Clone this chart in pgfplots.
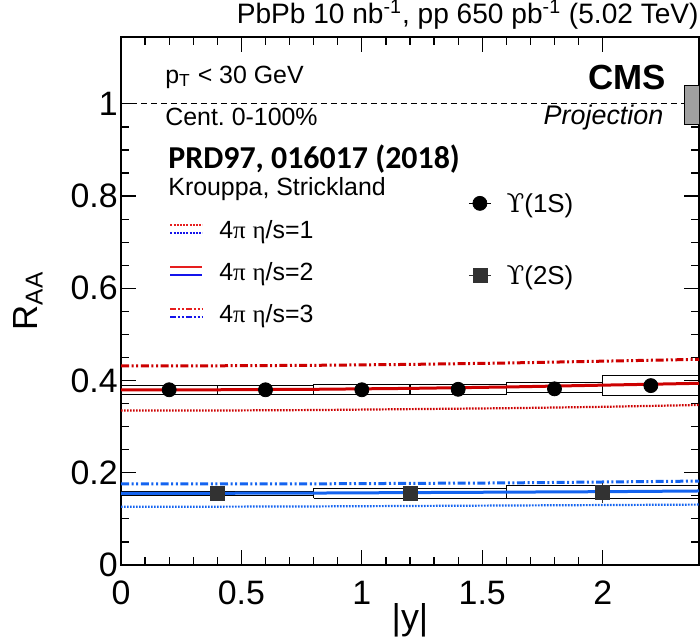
\documentclass[border=0pt]{standalone}
\usepackage{pgfplots}
\pgfplotsset{compat=1.18}
\usepackage{fontspec}
\setmainfont{Liberation Sans}
\newfontfamily\grk{Liberation Serif}
\newfontfamily\ups{DejaVu Serif}
\newfontfamily\calibrifont{Carlito}
\definecolor{pred}{RGB}{204,0,0}
\definecolor{pblue}{RGB}{20,100,240}
\definecolor{lred}{RGB}{230,30,30}
\definecolor{lblue}{RGB}{20,20,235}
\definecolor{sqgray}{RGB}{50,50,50}
\definecolor{boxgray}{RGB}{160,160,160}
\tikzset{
  dotpat/.style={dash pattern=on 0.8bp off 0.7bp},
  ddpat/.style={dash pattern=on 4bp off 1.3bp on 1bp off 1.3bp on 1bp off 1.3bp},
}
\frenchspacing
\begin{document}
\begin{tikzpicture}
\path[use as bounding box] (-60.5bp,-38bp) rectangle (289.5bp,282.5bp);
\begin{axis}[
  at={(0,0)}, anchor=south west,
  scale only axis, width=289bp, height=264bp,
  xmin=0, xmax=2.4, ymin=0, ymax=1.145,
  xtick={0,0.5,1,1.5,2}, ytick={0,0.2,0.4,0.6,0.8,1},
  minor x tick num=4, minor y tick num=3,
  major tick length=7.5bp, minor tick length=4bp,
  tick style={black, line width=0.6bp},
  axis line style={black, line width=0.8bp},
  ticklabel style={font=\fontsize{17}{17}\selectfont},
  /pgf/number format/assume math mode=true,
  yticklabel style={inner xsep=1.5bp},
  xticklabel style={yshift=-4.5bp},
  xlabel={|y|}, ylabel={R\textsubscript{AA}},
  xlabel style={at={(rel axis cs:0.5,-0.104)}, anchor=center, font=\fontsize{18}{18}\selectfont},
  ylabel style={at={(rel axis cs:-0.161,0.5)}, anchor=center, font=\fontsize{17.5}{17.5}\selectfont},
  every axis title shift=0pt,
  title={PbPb 10 nb\textsuperscript{-1}, pp 650 pb\textsuperscript{-1} (5.02 TeV)},
  title style={at={(rel axis cs:1,1.042)}, anchor=east, inner sep=0pt, font=\fontsize{14.1}{14.1}\selectfont},
  legend style={draw=none, fill=none, at={(rel axis cs:0.083,0.6515)}, anchor=north west,
    inner sep=0pt, row sep=9bp, column sep=8bp, font=\fontsize{12.5}{12.5}\selectfont,
    nodes={inner sep=0pt, text height=8.5bp, text depth=3.5bp}},
  legend cell align=left,
]
% legend entries
\addlegendimage{legend image code/.code={
  \draw[draw=lred, line width=1bp, dash pattern=on 1bp off 0.6bp] (0bp,4bp) -- (16bp,4bp);
  \draw[draw=lblue, line width=1bp, dash pattern=on 1bp off 0.6bp] (0bp,0bp) -- (16bp,0bp);}}
\addlegendentry{4{\grk π} {\grk η}/s=1}
\addlegendimage{legend image code/.code={
  \draw[draw=lred, line width=1bp] (0bp,4bp) -- (16bp,4bp);
  \draw[draw=lblue, line width=1bp] (0bp,0bp) -- (16bp,0bp);}}
\addlegendentry{4{\grk π} {\grk η}/s=2}
\addlegendimage{legend image code/.code={
  \draw[draw=lred, line width=1bp, dash pattern=on 2.8bp off 1bp on 1bp off 1bp on 1bp off 1bp] (0bp,4bp) -- (16bp,4bp);
  \draw[draw=lblue, line width=1bp, dash pattern=on 2.8bp off 1bp on 1bp off 1bp on 1bp off 1bp] (0bp,0bp) -- (16bp,0bp);}}
\addlegendentry{4{\grk π} {\grk η}/s=3}

% reference line and global uncertainty
\addplot[forget plot, black, line width=0.6bp, dash pattern=on 3bp off 2bp] coordinates {(0,1) (2.4,1)};
\addplot[forget plot, fill=boxgray, draw=black, line width=0.6bp] coordinates {(2.34,0.955) (2.46,0.955) (2.46,1.04) (2.34,1.04) (2.34,0.955)};

% systematic boxes 1S
\addplot[forget plot, black, line width=0.6bp] coordinates {(0,0.370) (0.4,0.370) (0.4,0.389) (0,0.389) (0,0.370)};
\addplot[forget plot, black, line width=0.6bp] coordinates {(0.4,0.370) (0.8,0.370) (0.8,0.389) (0.4,0.389) (0.4,0.370)};
\addplot[forget plot, black, line width=0.6bp] coordinates {(0.8,0.370) (1.2,0.370) (1.2,0.392) (0.8,0.392) (0.8,0.370)};
\addplot[forget plot, black, line width=0.6bp] coordinates {(1.2,0.370) (1.6,0.370) (1.6,0.392) (1.2,0.392) (1.2,0.370)};
\addplot[forget plot, black, line width=0.6bp] coordinates {(1.6,0.374) (2.0,0.374) (2.0,0.3955) (1.6,0.3955) (1.6,0.374)};
\addplot[forget plot, black, line width=0.6bp] coordinates {(2.0,0.367) (2.4,0.367) (2.4,0.411) (2.0,0.411) (2.0,0.367)};
% systematic boxes 2S
\addplot[forget plot, black, line width=0.6bp] coordinates {(0,0.150) (0.8,0.150) (0.8,0.160) (0,0.160) (0,0.150)};
\addplot[forget plot, black, line width=0.6bp] coordinates {(0.8,0.1446) (1.6,0.1446) (1.6,0.166) (0.8,0.166) (0.8,0.1446)};
\addplot[forget plot, black, line width=0.6bp] coordinates {(1.6,0.1446) (2.4,0.1446) (2.4,0.172) (1.6,0.172) (1.6,0.1446)};

% theory 1S (red)
\addplot[forget plot, pred, line width=1.1bp, dotpat] coordinates {(0,0.335) (0.4,0.335) (0.8,0.336) (1.2,0.338) (1.6,0.340) (2.0,0.343) (2.4,0.347)};
\addplot[forget plot, pred, line width=1.5bp] coordinates {(0,0.380) (0.4,0.380) (0.8,0.381) (1.2,0.383) (1.6,0.386) (2.0,0.390) (2.4,0.394)};
\addplot[forget plot, pred, line width=1.5bp, ddpat] coordinates {(0,0.432) (0.4,0.432) (0.8,0.433) (1.2,0.435) (1.6,0.438) (2.0,0.442) (2.4,0.446)};
% theory 2S (blue)
\addplot[forget plot, pblue, line width=1.1bp, dotpat] coordinates {(0,0.1265) (0.4,0.1265) (0.8,0.127) (1.2,0.128) (1.6,0.129) (2.0,0.130) (2.4,0.131)};
\addplot[forget plot, pblue, line width=1.5bp] coordinates {(0,0.1555) (0.4,0.1555) (0.8,0.156) (1.2,0.157) (1.6,0.158) (2.0,0.159) (2.4,0.1605)};
\addplot[forget plot, pblue, line width=1.5bp, ddpat] coordinates {(0,0.1757) (0.4,0.1757) (0.8,0.176) (1.2,0.177) (1.6,0.178) (2.0,0.180) (2.4,0.182)};

% data
\addplot[forget plot, only marks, mark=*, mark size=3.5bp, black] coordinates {(0.2,0.380) (0.6,0.380) (1.0,0.380) (1.4,0.381) (1.8,0.382) (2.2,0.389)};
\addplot[forget plot, only marks, mark=square*, mark size=3.5bp, sqgray,
  error bars/.cd, y dir=both, y explicit, error mark=none,
  error bar style={line width=0.8bp, sqgray}] coordinates {(0.4,0.1555) +- (0,0.008) (1.2,0.1555) +- (0,0.010) (2.0,0.1565) +- (0,0.021)};

% text
\node[anchor=west, inner sep=0pt, font=\fontsize{12.5}{12.5}\selectfont] at (rel axis cs:0.0761,0.924) {p\textsubscript{T} < 30 GeV};
\node[anchor=west, inner sep=0pt, font=\fontsize{12.5}{12.5}\selectfont] at (rel axis cs:0.0761,0.848) {Cent. 0-100\%};
\node[anchor=east, inner sep=0pt, font=\bfseries\fontsize{17.5}{17.5}\selectfont] at (rel axis cs:0.943,0.924) {CMS};
\node[anchor=east, inner sep=0pt, font=\itshape\fontsize{13.5}{13.5}\selectfont] at (rel axis cs:0.939,0.847) {Projection};
\node[anchor=west, inner sep=0pt, font=\calibrifont\bfseries\fontsize{16}{16}\selectfont] at (rel axis cs:0.0813,0.769) {PRD97, 016017 (2018)};
\node[anchor=west, inner sep=0pt, font=\fontsize{12.5}{12.5}\selectfont] at (rel axis cs:0.0813,0.712) {Krouppa, Strickland};
\end{axis}

\begin{axis}[
  at={(0,0)}, anchor=south west,
  scale only axis, width=289bp, height=264bp,
  xmin=0, xmax=2.4, ymin=0, ymax=1.145,
  hide axis,
  legend style={draw=none, fill=none, at={(rel axis cs:0.600,0.7008)}, anchor=north west,
    inner sep=0pt, row sep=24bp, column sep=7.5bp, font=\fontsize{13}{13}\selectfont,
    nodes={inner sep=0pt, text height=8.5bp, text depth=3.5bp}},
  legend cell align=left,
]
\addlegendimage{legend image code/.code={
  \draw[black, line width=0.7bp] (0bp,2bp) -- (11bp,2bp);
  \fill[black] (5.5bp,2bp) circle (3.5bp);}}
\addlegendentry{{\ups ϒ}(1S)}
\addlegendimage{legend image code/.code={
  \draw[sqgray, line width=0.7bp] (0bp,2bp) -- (11bp,2bp);
  \fill[sqgray] (2bp,-1.5bp) rectangle (9bp,5.5bp);}}
\addlegendentry{{\ups ϒ}(2S)}
\end{axis}
\end{tikzpicture}
\end{document}
